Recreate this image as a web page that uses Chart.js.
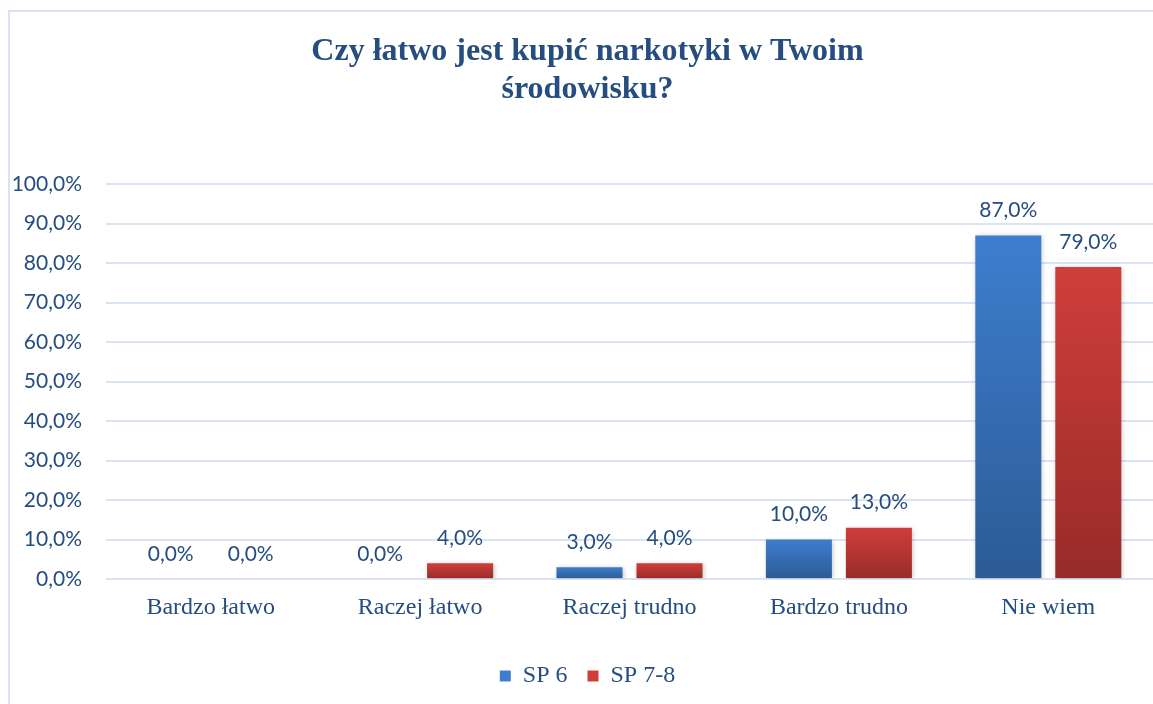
<!DOCTYPE html>
<html>
<head>
<meta charset="utf-8">
<script src="https://cdn.jsdelivr.net/npm/chart.js@4/dist/chart.umd.min.js"></script>
<style>
body{margin:0;background:#fff;overflow:hidden;}
#ramka{position:absolute;left:8px;top:10px;width:1170px;height:720px;border:2px solid #dae3f3;}
#wrap{position:absolute;left:0;top:0;width:1153px;height:704px;}
</style>
</head>
<body>
<div id="ramka"></div>
<div id="wrap"><canvas id="wykres"></canvas></div>
<script>
const kategorie=['Bardzo łatwo','Raczej łatwo','Raczej trudno','Bardzo trudno','Nie wiem'];
const sp6=[0,0,3,10,87];
const sp78=[0,4,4,13,79];
const serie=['SP 6','SP 7-8'];
const tytul=['Czy łatwo jest kupić narkotyki w Twoim','środowisku?'];

const granat='#254d7f';
const szeryf='"Liberation Serif","Times New Roman",serif';

/* gradient na kazdy slupek */
function grad(gora,dol){
return (c)=>{
let ch=c.chart;
if(!ch.chartArea||c.raw==null)return gora;
let y=ch.scales.y;
let t=y.getPixelForValue(c.raw),b=y.getPixelForValue(0);
if(b-t<1)return gora;
let g=ch.ctx.createLinearGradient(0,t,0,b);
g.addColorStop(0,gora);
g.addColorStop(1,dol);
return g;
};
}

/* etykiety nad slupkami */
const etykiety={
id:'etykiety',
afterDatasetsDraw(ch){
let ctx=ch.ctx;
ctx.save();
ctx.font='21px Lato';
ctx.fillStyle=granat;
ctx.textAlign='center';
ctx.textBaseline='middle';
ch.data.datasets.forEach((ds,i)=>{
ch.getDatasetMeta(i).data.forEach((b,j)=>{
ctx.fillText(ds.data[j].toFixed(1).replace('.',',')+'%',b.x,b.y-25);
});
});
ctx.restore();
}
};

/* cien pod slupkami */
const cien={
id:'cien',
beforeDatasetsDraw(ch){
ch.ctx.save();
ch.ctx.shadowColor='rgba(0,0,0,0.25)';
ch.ctx.shadowBlur=5;
ch.ctx.shadowOffsetX=1;
ch.ctx.shadowOffsetY=1;
},
afterDatasetsDraw(ch){
ch.ctx.restore();
}
};

/* zeby etykiety osi Y nie byly przyciete */
const bezCiecia={
id:'bezCiecia',
afterLayout(ch){
ch.scales.y.left=0;
}
};

new Chart(document.getElementById('wykres'),{
type:'bar',
data:{
labels:kategorie,
datasets:[
{label:serie[0],data:sp6,backgroundColor:grad('#3d7ecf','#2c5b95'),barPercentage:0.825,categoryPercentage:0.764},
{label:serie[1],data:sp78,backgroundColor:grad('#d03e3b','#972b28'),barPercentage:0.825,categoryPercentage:0.764}
]
},
options:{
responsive:true,
maintainAspectRatio:false,
animation:false,
layout:{padding:{left:22,right:0,top:10,bottom:6}},
plugins:{
title:{display:true,text:tytul,color:granat,
font:{family:szeryf,size:32,weight:'bold',lineHeight:1.19},
padding:{top:23,bottom:75}},
legend:{position:'bottom',
labels:{color:granat,boxWidth:11,boxHeight:11,padding:20,
font:{family:szeryf,size:24}}},
tooltip:{enabled:false}
},
scales:{
x:{
afterFit(s){s.height=65;},
grid:{display:false},
border:{display:false},
ticks:{color:granat,padding:6,
font:{family:szeryf,size:24}}
},
y:{
min:0,max:100,
afterFit(s){s.width=84;},
grid:{color:'#d9e3f2',lineWidth:2,drawTicks:false},
border:{display:false},
ticks:{stepSize:10,color:granat,padding:24,
font:{family:'Lato',size:21},
callback:(v)=>v.toFixed(1).replace('.',',')+'%'}
}
}
},
plugins:[cien,etykiety,bezCiecia]
});
</script>
</body>
</html>
